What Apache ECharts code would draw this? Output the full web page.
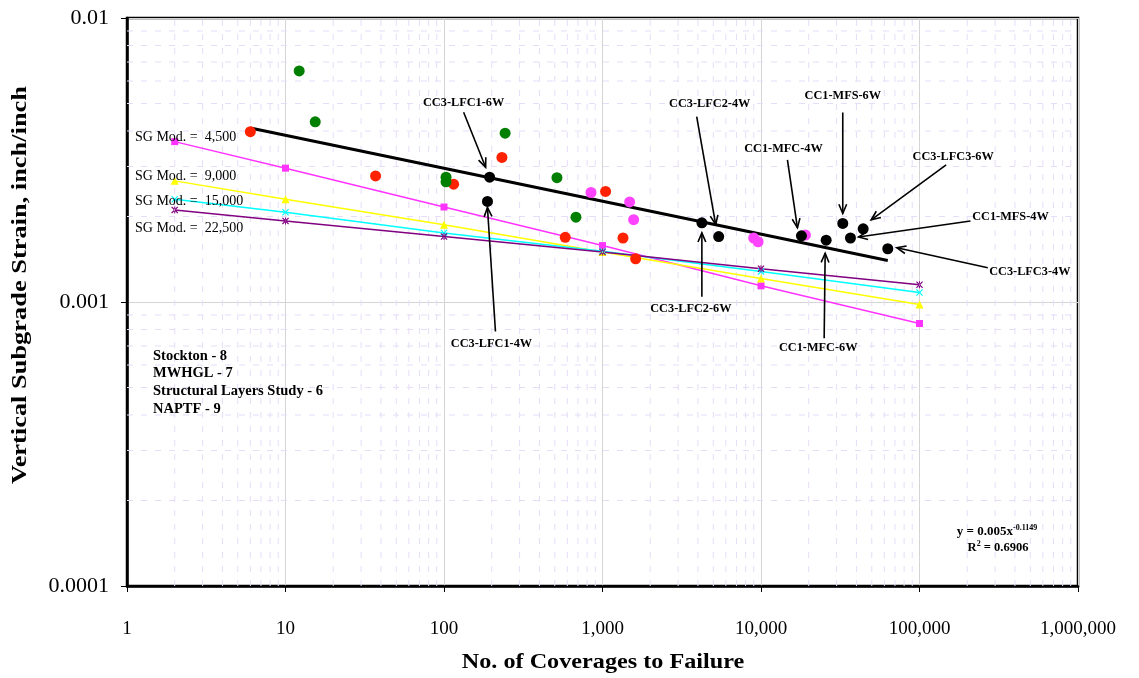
<!DOCTYPE html>
<html><head><meta charset="utf-8">
<script src="https://cdn.jsdelivr.net/npm/echarts@6/dist/echarts.min.js"></script>
<style>html,body{margin:0;padding:0;background:#fff}#c{width:1139px;height:678px}</style>
</head><body><div id="c"></div>
<script>
// ---- data ----
const xTicks = [1, 10, 100, 1000, 10000, 100000, 1000000];
const yTicks = [0.0001, 0.001, 0.01];
const stockton = [[6,0.00398],[37,0.00278],[115,0.00260],[232,0.00323],[582,0.00169],[1046,0.00245],[1347,0.00168],[1618,0.00142]];
const mwhgl = [[12.2,0.00651],[15.4,0.00431],[103,0.00275],[103,0.00265],[243,0.00393],[516,0.00274],[680,0.00199]];
const structural = [[846,0.00243],[1483,0.00225],[1572,0.00195],[8994,0.00168],[9587,0.00163],[19070,0.00172]];
const naptfNames = ['CC3-LFC1-6W','CC3-LFC1-4W','CC3-LFC2-6W','CC3-LFC2-4W','CC1-MFC-4W','CC1-MFC-6W','CC1-MFS-6W','CC1-MFS-4W','CC3-LFC3-6W','CC3-LFC3-4W'];
const naptfX = [194, 188, 4236, 5408, 17994, 25770, 32800, 36680, 44120, 63080];
const naptfY = [0.00275, 0.00226, 0.00190, 0.00170, 0.00171, 0.00165, 0.00189, 0.00168, 0.00181, 0.00154];
const sgX = [2, 10, 100, 1000, 10000, 100000];
const sg4500  = [0.00367, 0.00296, 0.00216, 0.00158, 0.00114, 0.00084];
const sg9000  = [0.00267, 0.00230, 0.00187, 0.00150, 0.00121, 0.00098];
const sg15000 = [0.00230, 0.00207, 0.00175, 0.00151, 0.00128, 0.00108];
const sg22500 = [0.00211, 0.00193, 0.00170, 0.00150, 0.00131, 0.00115];
const trendX = [6, 63080];
const trendY = [0.00410, 0.00140];
const sgLabels = ['SG Mod. =  4,500', 'SG Mod. =  9,000', 'SG Mod. =  15,000', 'SG Mod. =  22,500'];
const countLines = ['Stockton - 8', 'MWHGL - 7', 'Structural Layers Study - 6', 'NAPTF - 9'];
const equation = ['y = 0.005x', '-0.1149', 'R', '2', ' = 0.6906'];
const xTitle = 'No. of Coverages to Failure';
const yTitle = 'Vertical Subgrade Strain, inch/inch';

// ---- layout (pixels) ----
const annLayout = [
  {label:[-26,-74], tail:[-26,-65], head:[-4,-10]},
  {label:[4,142],  tail:[8,130],   head:[0,6]},
  {label:[-11,86], tail:[0,74],    head:[0,10]},
  {label:[-9,-133],tail:[-22,-120],head:[-3,-12]},
  {label:[-18,-87],tail:[-14,-76], head:[-4,-8]},
  {label:[-8,108], tail:[-2,98],   head:[-1,13]},
  {label:[0,-128], tail:[0,-111],  head:[0,-10]},
  {label:[160,-21],tail:[120,-17], head:[8,-1]},
  {label:[90,-72], tail:[83,-64],  head:[8,-9]},
  {label:[142,23], tail:[100,19],  head:[9,-1]}
];
const sgLabelPos = [[135,137],[135,176],[135,201],[135,228]];
const countPos = [153, 356, 17.7];

const SERIF = '"Liberation Serif","Times New Roman",serif';
const zip = (xs, ys) => xs.map((x, i) => [x, ys[i]]);

// minor grid positions (log minors 2..9 per decade), drawn as broken line series
const xMinorPts = [], yMinorPts = [];
for (let d = 1; d < 1000000; d *= 10) for (let m = 2; m <= 9; m++) {
  const v = m * d; xMinorPts.push([v, 0.0001], [v, 0.01], ['-', '-']);
}
for (let e = -4; e < -2; e++) for (let m = 2; m <= 9; m++) {
  const v = +(m * Math.pow(10, e)).toPrecision(2); yMinorPts.push([1, v], [1000000, v], ['-', '-']);
}
const minorStyle = {color: '#e6ddf8', width: 1, type: [6, 8]};

const crossPath = 'path://M0,1.2 L1.2,0 L5,3.8 L8.8,0 L10,1.2 L6.2,5 L10,8.8 L8.8,10 L5,6.2 L1.2,10 L0,8.8 L3.8,5 Z';
const starPath = 'path://M0,1.2 L1.2,0 L5,3.8 L8.8,0 L10,1.2 L6.2,5 L10,8.8 L8.8,10 L5,6.2 L1.2,10 L0,8.8 L3.8,5 Z M4.3,0 L4.3,10 L5.7,10 L5.7,0 Z';

function sgSeries(name, ys, color, symbol, size) {
  return {name, type: 'line', data: zip(sgX, ys), symbol, symbolSize: size,
    lineStyle: {color, width: 1.5}, itemStyle: {color}, z: 3, silent: true};
}
function scatter(name, data, color) {
  return {name, type: 'scatter', data, symbol: 'circle', symbolSize: 11,
    itemStyle: {color, opacity: 1}, z: 5};
}
function gridSeries(name, data) {
  return {name, type: 'line', data, symbol: 'none', connectNulls: false, silent: true, z: 0,
    lineStyle: minorStyle};
}

const chart = echarts.init(document.getElementById('c'), null, {renderer: 'canvas'});
const option = {
  animation: false,
  backgroundColor: '#fff',
  grid: {left: 127, right: 61, top: 18, bottom: 92, show: true, borderColor: '#000', borderWidth: 2.5, containLabel: false},
  xAxis: {
    type: 'log', logBase: 10, min: 1, max: 1000000,
    axisLine: {show: true, lineStyle: {color: '#000', width: 2.5}},
    axisTick: {show: true, length: 6, lineStyle: {color: '#000', width: 1}},
    axisLabel: {margin: 34, color: '#000', fontFamily: SERIF, fontSize: 19,
      formatter: v => Math.round(v).toLocaleString('en-US')},
    splitLine: {show: true, lineStyle: {color: '#d4d4d4', width: 1}},
    minorTick: {show: false}, minorSplitLine: {show: false}
  },
  yAxis: {
    type: 'log', logBase: 10, min: 0.0001, max: 0.01,
    axisLine: {show: true, lineStyle: {color: '#000', width: 2.5}},
    axisTick: {show: true, length: 6, lineStyle: {color: '#000', width: 1}},
    axisLabel: {margin: 18, color: '#000', fontFamily: SERIF, fontSize: 22,
      formatter: v => String(Number(v.toPrecision(1)))},
    splitLine: {show: true, lineStyle: {color: '#d4d4d4', width: 1}},
    minorTick: {show: false}, minorSplitLine: {show: false}
  },
  series: [
    gridSeries('xMinor', xMinorPts),
    gridSeries('yMinor', yMinorPts),
    sgSeries('SG 4500', sg4500, '#ff33ff', 'rect', 7),
    sgSeries('SG 9000', sg9000, '#ffff00', 'triangle', 8),
    sgSeries('SG 15000', sg15000, '#00ffff', crossPath, 7),
    sgSeries('SG 22500', sg22500, '#800080', starPath, 7),
    {name: 'Trend', type: 'line', data: zip(trendX, trendY), symbol: 'none',
      lineStyle: {color: '#000', width: 3}, z: 4, silent: true},
    scatter('Stockton', stockton, '#ff2200'),
    scatter('MWHGL', mwhgl, '#007f00'),
    scatter('Structural Layers Study', structural, '#ff44ff'),
    scatter('NAPTF', zip(naptfX, naptfY), '#000000')
  ]
};
chart.setOption(option);

// ---- annotations ----
const g = [];
const annFont = {fontFamily: SERIF, fontWeight: 'bold', fontSize: 12.3, fill: '#000'};
naptfNames.forEach((name, i) => {
  const p = chart.convertToPixel({gridIndex: 0}, [naptfX[i], naptfY[i]]);
  const L = annLayout[i];
  const tx = p[0] + L.tail[0], ty = p[1] + L.tail[1];
  const hx = p[0] + L.head[0], hy = p[1] + L.head[1];
  g.push({type: 'text', x: p[0] + L.label[0], y: p[1] + L.label[1], z: 20,
    style: Object.assign({text: name, align: 'center', verticalAlign: 'middle'}, annFont)});
  g.push({type: 'line', z: 19, shape: {x1: tx, y1: ty, x2: hx, y2: hy},
    style: {stroke: '#000', lineWidth: 1.6}});
  const ang = Math.atan2(hy - ty, hx - tx), len = 10, spread = 0.4;
  g.push({type: 'polyline', z: 19, shape: {points: [
      [hx - len * Math.cos(ang - spread), hy - len * Math.sin(ang - spread)],
      [hx, hy],
      [hx - len * Math.cos(ang + spread), hy - len * Math.sin(ang + spread)]]},
    style: {stroke: '#000', lineWidth: 1.6, fill: null}});
});
sgLabels.forEach((t, i) => {
  g.push({type: 'text', x: sgLabelPos[i][0], y: sgLabelPos[i][1], z: 20,
    style: {text: t, align: 'left', verticalAlign: 'middle', fontFamily: SERIF, fontSize: 14, fill: '#000'}});
});
countLines.forEach((t, i) => {
  g.push({type: 'text', x: countPos[0], y: countPos[1] + i * countPos[2], z: 20,
    style: {text: t, align: 'left', verticalAlign: 'middle', fontFamily: SERIF, fontWeight: 'bold', fontSize: 14.5, fill: '#000'}});
});
g.push({type: 'text', x: 997, y: 532, z: 20, style: {
  text: equation[0] + '{s|' + equation[1] + '}', align: 'center', verticalAlign: 'middle',
  fontFamily: SERIF, fontWeight: 'bold', fontSize: 13, fill: '#000',
  rich: {s: {fontFamily: SERIF, fontWeight: 'bold', fontSize: 8, padding: [0,0,9,0]}}}});
g.push({type: 'text', x: 998, y: 548, z: 20, style: {
  text: equation[2] + '{s|' + equation[3] + '}' + equation[4], align: 'center', verticalAlign: 'middle',
  fontFamily: SERIF, fontWeight: 'bold', fontSize: 12.5, fill: '#000',
  rich: {s: {fontFamily: SERIF, fontWeight: 'bold', fontSize: 8, padding: [0,0,9,0]}}}});
g.push({type: 'text', x: 603, y: 662, scaleX: 1.1, z: 20, style: {text: xTitle, align: 'center', verticalAlign: 'middle',
  fontFamily: SERIF, fontWeight: 'bold', fontSize: 22, fill: '#000'}});
g.push({type: 'text', x: 20, y: 285, rotation: Math.PI / 2, scaleX: 1.2, z: 20, style: {text: yTitle, align: 'center', verticalAlign: 'middle',
  fontFamily: SERIF, fontWeight: 'bold', fontSize: 22, fill: '#000'}});
chart.setOption({graphic: g});
</script>
</body></html>
